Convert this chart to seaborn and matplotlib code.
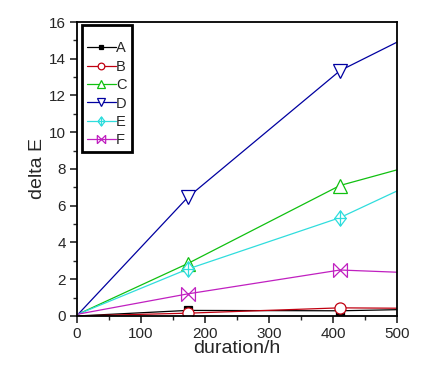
import numpy as np
import pandas as pd
import matplotlib
matplotlib.use("Agg")
import matplotlib.pyplot as plt
import seaborn as sns
from matplotlib.path import Path
from matplotlib.lines import Line2D
from matplotlib.ticker import MultipleLocator

# === DATA ===
hours = [2, 173, 411, 500]
series_names = ["A", "B", "C", "D", "E", "F"]
vals_a = [0.0, 0.30, 0.28, 0.34]
vals_b = [0.0, 0.15, 0.44, 0.42]
vals_c = [0.1, 2.85, 7.1, 7.95]
vals_d = [0.1, 6.45, 13.35, 14.9]
vals_e = [0.1, 2.55, 5.35, 6.8]
vals_f = [0.1, 1.2, 2.5, 2.38]

# === MARKERS (Origin-like) ===
diamond_plus = Path(
    [(0, 1), (0.75, 0), (0, -1), (-0.75, 0), (0, 1), (0, 1), (0, -1), (-0.75, 0), (0.75, 0)],
    [Path.MOVETO, Path.LINETO, Path.LINETO, Path.LINETO, Path.CLOSEPOLY,
     Path.MOVETO, Path.LINETO, Path.MOVETO, Path.LINETO])
bowtie = Path(
    [(-1, -1), (1, 1), (-1, 1), (1, -1), (-1, -1), (-1, 1), (1, -1), (1, 1)],
    [Path.MOVETO, Path.LINETO, Path.MOVETO, Path.LINETO,
     Path.MOVETO, Path.LINETO, Path.MOVETO, Path.LINETO])

colors = {"A": "#000000", "B": "#C00010", "C": "#10C010",
          "D": "#0000A0", "E": "#30DDDD", "F": "#C020C0"}
markers = {"A": "s", "B": "o", "C": "^", "D": "v", "E": diamond_plus, "F": bowtie}
msizes = {"A": 6, "B": 8, "C": 10, "D": 10, "E": 11, "F": 10}

df = pd.DataFrame({
    "hours": hours * 6,
    "deltaE": vals_a + vals_b + vals_c + vals_d + vals_e + vals_f,
    "series": [n for n in series_names for _ in hours],
})

sns.set_style("ticks")
plt.rcParams["font.family"] = ["Liberation Sans", "DejaVu Sans"]

fig = plt.figure(figsize=(4.45, 3.73), dpi=100)
ax = fig.add_axes([0.173, 0.153, 0.719, 0.788])

handles = []
for name in series_names:
    sub = df[df["series"] == name]
    filled = name == "A"
    face = colors[name] if filled else ("none" if name == "F" else "white")
    sns.lineplot(data=sub, x="hours", y="deltaE", ax=ax, color=colors[name],
                 marker=markers[name], markersize=msizes[name], markevery=[1, 2],
                 markerfacecolor=face, markeredgecolor=colors[name],
                 markeredgewidth=0.9, linewidth=0.9, legend=False)
    handles.append(Line2D([], [], color=colors[name], marker=markers[name],
                          markersize=msizes[name] * 0.6, markerfacecolor=face,
                          markeredgecolor=colors[name], markeredgewidth=0.9,
                          linewidth=0.9, label=name))

ax.set_xlim(0, 500)
ax.set_ylim(0, 16)
ax.xaxis.set_major_locator(MultipleLocator(100))
ax.xaxis.set_minor_locator(MultipleLocator(50))
ax.yaxis.set_major_locator(MultipleLocator(2))
ax.yaxis.set_minor_locator(MultipleLocator(1))
ax.tick_params(which="major", direction="out", length=5, width=1.2,
               labelsize=11, top=False, right=False, pad=3)
ax.tick_params(which="minor", direction="out", length=3, width=1.0,
               top=False, right=False)
for sp in ax.spines.values():
    sp.set_visible(True)
    sp.set_linewidth(1.3)
    sp.set_color("black")

ax.set_xlabel("duration/h", fontsize=14, labelpad=-1)
ax.set_ylabel("delta E", fontsize=14, labelpad=2)

leg = ax.legend(handles=handles, loc="upper left", bbox_to_anchor=(0.015, 0.99),
                borderaxespad=0, fontsize=10.5, handlelength=2.0, handletextpad=0.0,
                labelspacing=0.3, borderpad=0.35, fancybox=False,
                framealpha=1, edgecolor="black", title=" ", title_fontsize=6)
leg.get_frame().set_linewidth(2)

fig.savefig("out.png", dpi=100)
